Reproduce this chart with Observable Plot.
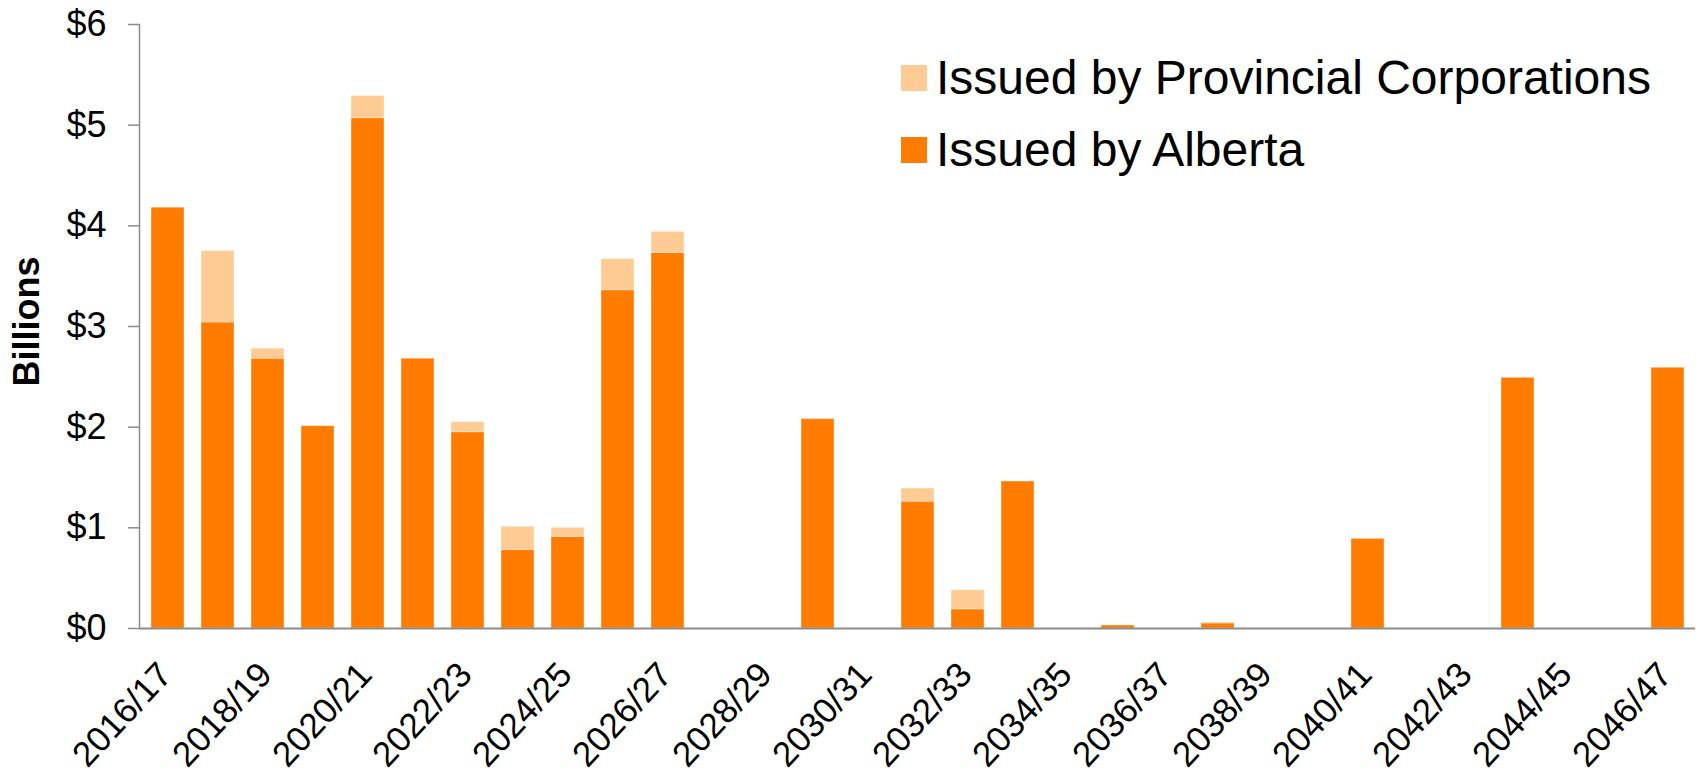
<!DOCTYPE html>
<html><head><meta charset="utf-8">
<script src="https://cdn.jsdelivr.net/npm/d3@7"></script>
<script src="https://cdn.jsdelivr.net/npm/@observablehq/plot@0.6"></script>
<style>
body{margin:0;background:#fff;}
#wrap{position:relative;width:1702px;height:773px;font-family:"Liberation Sans",Arial,sans-serif;}
#legend{position:absolute;left:901px;top:42px;}
.row{display:flex;align-items:center;height:72px;font-size:48px;line-height:72px;color:#000;white-space:nowrap;}
.sw{width:26px;height:26px;margin-right:9px;flex:none;}
</style></head><body><div id="wrap"><div id="chart"></div><div id="legend"></div></div>
<script>
const categories = ["2016/17","2017/18","2018/19","2019/20","2020/21","2021/22","2022/23","2023/24","2024/25","2025/26","2026/27","2027/28","2028/29","2029/30","2030/31","2031/32","2032/33","2033/34","2034/35","2035/36","2036/37","2037/38","2038/39","2039/40","2040/41","2041/42","2042/43","2043/44","2044/45","2045/46","2046/47"];
const alberta      = [4.18, 3.04, 2.68, 2.01, 5.07, 2.68, 1.95, 0.78, 0.91, 3.36, 3.73, 0, 0, 2.08, 0, 1.26, 0.19, 1.46, 0, 0.03, 0, 0.05, 0, 0, 0.89, 0, 0, 2.49, 0, 0, 2.59];
const corporations = [0, 0.71, 0.10, 0, 0.22, 0, 0.10, 0.23, 0.09, 0.31, 0.21, 0, 0, 0, 0, 0.13, 0.19, 0, 0, 0, 0, 0.01, 0, 0, 0, 0, 0, 0, 0, 0, 0];
const tickLabels = ["2016/17","2018/19","2020/21","2022/23","2024/25","2026/27","2028/29","2030/31","2032/33","2034/35","2036/37","2038/39","2040/41","2042/43","2044/45","2046/47"];
const yTicks = [0, 1, 2, 3, 4, 5, 6];
const series = ["Issued by Alberta", "Issued by Provincial Corporations"];
const colors = ["#FF7C00", "#FDCB93"];
const legendOrder = ["Issued by Provincial Corporations", "Issued by Alberta"];

const rows = [];
categories.forEach((c, i) => {
  rows.push({category: c, series: series[0], value: alberta[i]});
  rows.push({category: c, series: series[1], value: corporations[i]});
});

const chart = Plot.plot({
  width: 1702, height: 773,
  marginTop: 24, marginBottom: 145, marginLeft: 139, marginRight: 7,
  style: {fontFamily: '"Liberation Sans", Arial, sans-serif', background: "#fff", color: "#000", overflow: "visible"},
  x: {type: "band", domain: categories, paddingInner: 0.34, paddingOuter: 0.17, align: 0.5, axis: null},
  y: {domain: [0, 6], axis: null},
  color: {domain: series, range: colors},
  marks: [
    Plot.barY(rows, Plot.stackY({x: "category", y: "value", fill: "series", order: series, stroke: "#ffffff", strokeOpacity: 0.35, strokeWidth: 1})),
    Plot.frame({anchor: "left", stroke: "#8C8C8C", strokeWidth: 1.5}),
    Plot.ruleY([0], {stroke: "#8C8C8C", strokeWidth: 2}),
    Plot.axisY(yTicks, {tickSize: 11, tickPadding: 22, tickFormat: d => "$" + d, fontSize: 36, stroke: "#8C8C8C", strokeWidth: 1.5, fill: "#000", label: null}),
    Plot.axisX(tickLabels, {tickSize: 0, tickPadding: 40, tickRotate: -47, fontSize: 35, textAnchor: "end", lineAnchor: "middle", dx: -2.5, fill: "#000", label: null}),
    Plot.text(["Billions"], {frameAnchor: "left", rotate: -90, dx: -126, dy: -5, fontWeight: "bold", fontSize: 36, textAnchor: "middle", lineAnchor: "top", fill: "#000"})
  ]
});
document.getElementById("chart").appendChild(chart);

const legend = document.getElementById("legend");
legendOrder.forEach(name => {
  const row = document.createElement("div");
  row.className = "row";
  const sw = document.createElement("div");
  sw.className = "sw";
  sw.style.background = colors[series.indexOf(name)];
  const label = document.createElement("span");
  label.textContent = name;
  row.appendChild(sw);
  row.appendChild(label);
  legend.appendChild(row);
});
</script>
</body></html>
